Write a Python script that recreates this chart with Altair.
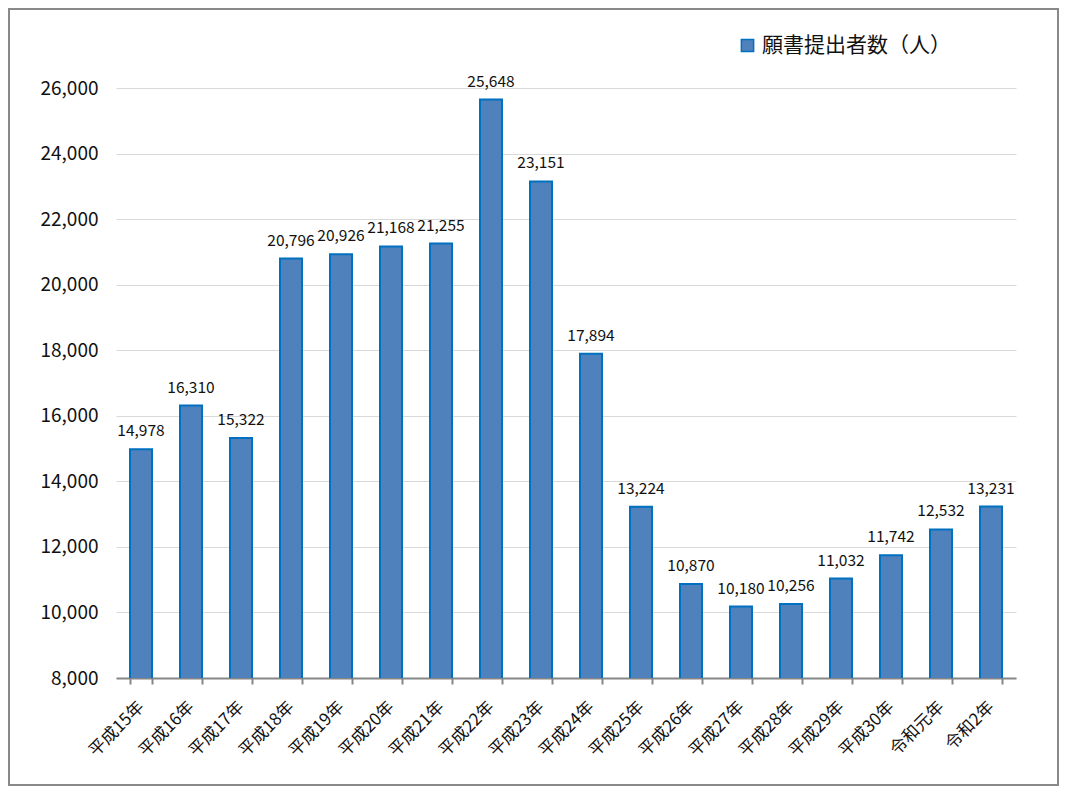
import altair as alt
import pandas as pd

years = ["平成15年", "平成16年", "平成17年", "平成18年", "平成19年", "平成20年",
         "平成21年", "平成22年", "平成23年", "平成24年", "平成25年", "平成26年",
         "平成27年", "平成28年", "平成29年", "平成30年", "令和元年", "令和2年"]
applicants = [14978, 16310, 15322, 20796, 20926, 21168, 21255, 25648, 23151,
              17894, 13224, 10870, 10180, 10256, 11032, 11742, 12532, 13231]
series_name = "願書提出者数（人）"
y_ticks = [8000, 10000, 12000, 14000, 16000, 18000, 20000, 22000, 24000, 26000]

df = pd.DataFrame({"year": years, "value": applicants, "series": series_name})

W, H = 900, 590
JP = "Noto Sans CJK JP"

x = alt.X("year:N", sort=years, title=None,
          scale=alt.Scale(paddingInner=0.56, paddingOuter=0.28),
          axis=alt.Axis(labelAngle=-45, labelAlign="right", labelBaseline="middle",
                        labelFont=JP, labelFontSize=17, labelColor="#111",
                        tickBand="extent", tickSize=6, tickColor="#868686", tickWidth=2,
                        domainColor="#868686", domainWidth=2, labelPadding=20, grid=False))
y = alt.Y("value:Q", title=None,
          scale=alt.Scale(domain=[8000, 26000], nice=False, zero=False),
          axis=alt.Axis(values=y_ticks, format=",d", labelFont=JP, labelFontSize=19,
                        labelColor="#111", labelPadding=18, ticks=False, domain=False,
                        grid=True, gridColor="#D9D9D9", gridWidth=1))

base = alt.Chart(df)

frame = base.mark_rect(filled=False, stroke="#898989", strokeWidth=2).encode(
    x=alt.value(-107), x2=alt.value(W + 42), y=alt.value(-79), y2=alt.value(H + 107)
).transform_filter(alt.datum.year == years[0])

bars = base.mark_bar(stroke="#0070C0", strokeWidth=2, fill="#4F81BD", clip=True).encode(
    x=x, y=y,
    color=alt.Color("series:N", title=None,
                    scale=alt.Scale(range=["#4F81BD"]),
                    legend=alt.Legend(orient="none", legendX=621, legendY=-53,
                                      symbolType="square", symbolSize=150,
                                      symbolStrokeColor="#0070C0", symbolStrokeWidth=1.5,
                                      labelFont=JP, labelFontSize=21, labelColor="#111",
                                      labelOffset=4, labelLimit=400)),
)

labels = base.mark_text(font=JP, fontSize=15.5, color="#111", baseline="middle", dy=-18).encode(
    x=alt.X("year:N", sort=years), y=y, text=alt.Text("value:Q", format=",")
)

chart = alt.layer(frame, bars, labels).properties(
    width=W, height=H,
    padding={"left": 108, "top": 80, "right": 43, "bottom": 108},
    autosize=alt.AutoSizeParams(type="none"),
    background="white",
).configure_view(stroke=None)

chart.save("out.html", embed_options={"renderer": "svg", "actions": False})
